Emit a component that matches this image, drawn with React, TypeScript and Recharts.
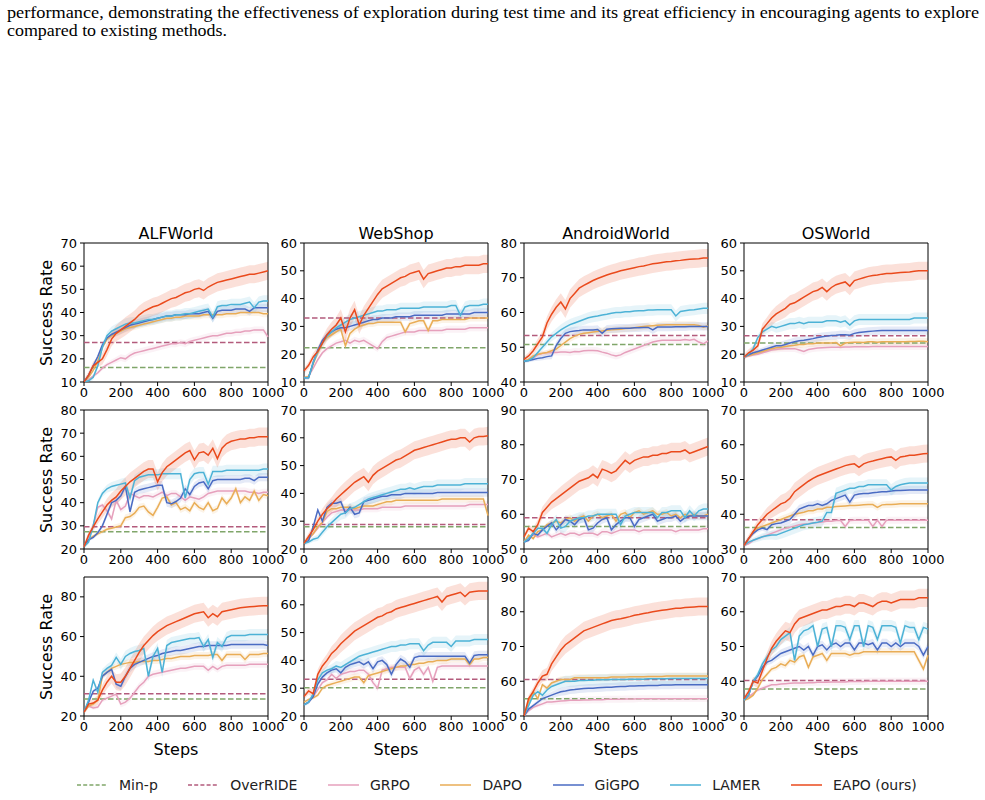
import React from "react";
import { ComposedChart, Line, Area, XAxis, YAxis, ReferenceLine, ReferenceArea } from "recharts";

// training steps shared by every curve
const STEPS = [
  0, 25, 50, 75, 100, 125, 150, 175, 200, 225, 250,
  275, 300, 325, 350, 375, 400, 425, 450, 475, 500,
  525, 550, 575, 600, 625, 650, 675, 700, 725, 750,
  775, 800, 825, 850, 875, 900, 925, 950, 975, 1000,
];

const ENVS = ["ALFWorld", "WebShop", "AndroidWorld", "OSWorld"];
const METHODS = ["GRPO", "DAPO", "GiGPO", "LAMER", "EAPO (ours)"];
const COLOURS = ["#e6a0bc", "#e9ad56", "#4a6bc3", "#4cb2d6", "#ea4a1c"];
const BAND_FRAC = [0.025, 0.025, 0.03, 0.04, 0.065];
const MINP_COLOUR = "#80a66a";
const OVERRIDE_COLOUR = "#b35b7c";

// baselines without curves (one value per panel, row by row)
const MINP_LEVELS = [16.3, 22.3, 50.8, 24, 27.5, 28, 56.5, 36.2, 28.5, 30.2, 55, 37.8];
const OVERRIDE_LEVELS = [27, 33, 53.4, 26.6, 29.6, 28.8, 59, 38.4, 31.2, 33.2, 60.5, 40.2];

const Y_DOMAINS = [
  [10, 70], [10, 60], [40, 80], [10, 60],
  [20, 80], [20, 70], [50, 90], [30, 70],
  [20, 90], [20, 70], [50, 90], [30, 70],
];
const Y_TICKS = [
  [10, 20, 30, 40, 50, 60, 70], [10, 20, 30, 40, 50, 60], [40, 50, 60, 70, 80], [10, 20, 30, 40, 50, 60],
  [20, 30, 40, 50, 60, 70, 80], [20, 30, 40, 50, 60, 70], [50, 60, 70, 80, 90], [30, 40, 50, 60, 70],
  [20, 40, 60, 80], [20, 30, 40, 50, 60, 70], [50, 60, 70, 80, 90], [30, 40, 50, 60, 70],
];
const X_TICKS = [0, 200, 400, 600, 800, 1000];

// ---- row 1 ----
const ALF1_GRPO = [
  10, 11, 12.5, 14, 16, 17.5, 18.5, 19.5, 20.5, 20, 21.5,
  22.5, 23, 23.5, 24, 24.5, 25, 25.5, 26, 26.5, 26.5,
  27, 26.5, 27.5, 28, 28.5, 29, 29.5, 30, 30, 30.5,
  31, 31, 31.5, 31.5, 32, 32, 32.5, 32.5, 32.5, 29.5,
];
const ALF1_DAPO = [
  10, 12, 15, 19, 25, 28.5, 30, 31, 32, 33, 33.5,
  34, 34.5, 35, 35.5, 36, 36.5, 37, 37.5, 37.5, 38,
  38, 38.5, 38.5, 38.5, 38.5, 39, 39, 39, 39, 39,
  39.5, 39.5, 39.5, 40, 40, 40, 40, 40, 39.5, 39.5,
];
const ALF1_GIGPO = [
  10, 13, 17, 21, 26, 29, 30.5, 31.5, 32.5, 33.5, 34.5,
  35, 35.5, 36, 36.5, 37, 37.5, 38, 38.5, 38.5, 39,
  39, 39, 39.5, 39.5, 39.5, 40, 40.5, 37.5, 40.5, 41,
  41, 41, 41.5, 41.5, 41.5, 40.5, 42, 42, 42, 42,
];
const ALF1_LAMER = [
  10, 10.5, 12, 17, 25, 30, 32, 33, 34, 35, 35.5,
  35.5, 36, 36.5, 37, 37, 37.5, 38, 38.5, 38.5, 39,
  39, 39.5, 39.5, 40, 40.5, 41, 41.5, 38, 42.5, 43,
  43, 43.5, 43.5, 43.5, 44, 44.5, 42, 44.5, 45, 45,
];
const ALF1_EAPO = [
  10, 13, 17, 18.5, 20, 24, 28.5, 31, 32.5, 34, 35.5,
  37, 39, 40.5, 41.5, 42.5, 43, 44, 45, 46, 46.5,
  47.5, 48.5, 49, 50, 50.5, 49.5, 51, 52, 53, 53.5,
  54, 54.5, 55, 55.5, 56, 56.5, 56.5, 57, 57.5, 58,
];

const WEB1_GRPO = [
  11.5, 12, 15, 18, 20.5, 22, 23, 24, 24.5, 25, 24,
  25, 24.5, 25, 24, 23, 22, 24.5, 26, 26.5, 27,
  27.5, 28, 28, 28, 28.5, 28.5, 28.5, 28.5, 28.5, 28.5,
  29, 29, 29, 29, 29, 29.5, 29.5, 29.5, 29.5, 29.5,
];
const WEB1_DAPO = [
  11.5, 12, 16.5, 20.5, 24, 26, 27, 28, 29, 23, 27.5,
  29, 30, 30.5, 31, 31, 31.5, 31.5, 31.5, 31.5, 31.5,
  31.5, 28, 31, 31.5, 32, 32, 28.5, 32, 32, 32.5,
  32.5, 32.5, 32.5, 32.5, 32.5, 33, 33, 33, 33, 33,
];
const WEB1_GIGPO = [
  11.5, 11.5, 17, 21.5, 25, 27, 28, 29, 29.5, 29.5, 30,
  30.5, 31, 31.5, 32, 32.5, 32.5, 33, 33, 33, 33.5,
  33.5, 33.5, 33.5, 34, 34, 34, 34, 34, 34, 34,
  34.5, 34.5, 34.5, 34.5, 34.5, 34.5, 35, 35, 35, 35,
];
const WEB1_LAMER = [
  11.5, 11.5, 17, 21, 24, 26.5, 28, 29.5, 30.5, 31.5, 32.5,
  33, 33.5, 34, 34.5, 35, 35.5, 35.5, 36, 36, 36,
  36.5, 36.5, 36.5, 36.5, 36.5, 37, 37, 37, 37, 37,
  37, 37.5, 37.5, 34, 37, 37.5, 37.5, 37.5, 38, 38,
];
const WEB1_EAPO = [
  14, 16, 19, 21, 24, 27, 29, 30.5, 33, 28, 33,
  36, 30.5, 34, 36.5, 39, 41.5, 43.5, 44.5, 45.5, 46.5,
  47.5, 48, 49, 49.5, 50, 47, 49, 49.5, 50, 50.5,
  51, 51, 51.5, 51.5, 52, 52, 52, 52, 52.5, 52.5,
];

const AND1_GRPO = [
  46, 46.3, 47, 47.8, 48.2, 48.4, 48.5, 48.5, 48.6, 48.6, 48.5,
  48.8, 48.7, 49, 49.1, 49.1, 49, 48.6, 48.3, 47.8, 47.5,
  47.8, 48.5, 49, 49.5, 50, 50.5, 51, 51.5, 51.8, 52,
  52, 52, 52, 52, 52.2, 52, 52.3, 51.5, 51, 51.8,
];
const AND1_DAPO = [
  46, 46.5, 47.5, 48, 48.3, 48.5, 49, 49.5, 50.5, 51.5, 52.5,
  53.2, 53.7, 54, 54.2, 54.4, 54.5, 54.7, 54.9, 55, 55.1,
  55.2, 55.4, 55.5, 55.6, 55.8, 56, 56.1, 56.2, 56.3, 56.4,
  56.5, 56.5, 56.5, 56.5, 56.5, 56.5, 56.5, 56.3, 55.8, 56.2,
];
const AND1_GIGPO = [
  46, 46.2, 46.5, 46.8, 47, 47.3, 47.5, 50.5, 52.5, 54, 54.5,
  54.7, 54.8, 55, 55, 55, 55.1, 54, 55.2, 55.3, 55.4,
  55.5, 55.5, 55.5, 55.6, 55.6, 55.7, 55.7, 55, 55.8, 55.8,
  55.8, 55.8, 55.9, 55.9, 55.9, 56, 56, 56, 56, 56,
];
const AND1_LAMER = [
  46, 46.2, 47, 48.5, 50, 51.5, 53, 54, 55, 55.8, 56.5,
  57, 57.5, 58, 58.5, 58.8, 59, 59.3, 59.5, 59.8, 60,
  60, 60.2, 60.2, 60.4, 60.5, 60.5, 60.7, 60.7, 60.8, 60.8,
  60.8, 60.8, 59, 60.3, 60.5, 60.7, 60.8, 61, 61.2, 61.2,
];
const AND1_EAPO = [
  46.5, 47.5, 49, 51, 53, 57, 59.5, 61.5, 63, 61, 64,
  65.5, 67, 67.8, 68.5, 69.2, 69.8, 70.3, 70.8, 71.2, 71.6,
  72, 72.3, 72.6, 72.9, 73.2, 73.4, 73.7, 74, 74.2, 74.4,
  74.6, 74.7, 74.9, 75, 75.2, 75.3, 75.4, 75.5, 75.7, 75.7,
];

const OS1_GRPO = [
  19, 19.3, 19.7, 20, 20.5, 21, 21.5, 21.7, 22, 22, 22,
  22, 21.5, 21, 21.7, 22, 22.2, 22.3, 22.4, 22.5, 22.5,
  22.5, 22.6, 22.6, 22.7, 22.7, 22.7, 22.7, 22.8, 22.8, 22.8,
  22.8, 22.8, 22.8, 22.8, 22.8, 22.8, 22.8, 22.8, 22.8, 22.8,
];
const OS1_DAPO = [
  19, 19.5, 20, 20.5, 21, 21.5, 22, 22.3, 22.5, 22.8, 23,
  23.2, 23.5, 23.5, 23.8, 23.8, 24, 24, 24, 24, 24.2,
  23, 24, 24.2, 24.3, 24.3, 24.2, 24.5, 24.5, 24.3, 24.5,
  24.5, 24.5, 24.5, 24.5, 24.5, 24.6, 24.6, 24.7, 24.7, 24.5,
];
const OS1_GIGPO = [
  19, 19.8, 20.5, 21, 21.5, 22, 22.5, 23, 23, 23.5, 24,
  24.5, 24.8, 25, 25.3, 25.6, 26, 26.3, 26.5, 26.7, 26.8,
  27, 27, 26.8, 27.5, 27.8, 28, 28.2, 28.3, 28.4, 28.5,
  28.5, 28.5, 28.5, 28.5, 28.5, 28.5, 28.5, 28.5, 28.5, 28.5,
];
const OS1_LAMER = [
  19, 20, 22, 26, 28, 29, 30, 29.5, 30, 30.5, 31,
  31, 31.5, 31, 31.5, 31.5, 31.5, 31.5, 32, 32, 32,
  31.5, 32, 30.5, 32, 32.5, 32.5, 32.5, 32.5, 32.5, 32.5,
  32.5, 32.5, 32.5, 32.5, 32.5, 32.5, 33, 33, 33, 33,
];
const OS1_EAPO = [
  19, 20.5, 21.5, 23, 29, 31, 33, 34.5, 35.5, 36.5, 38,
  38.5, 39.5, 40.5, 41.5, 42.5, 43, 44, 42.5, 44, 45,
  45.5, 46, 44.5, 46.5, 47, 47.5, 48, 48.3, 48.5, 48.8,
  49, 49, 49.2, 49.4, 49.5, 49.6, 49.8, 50, 50, 50,
];

// ---- row 2 ----
const ALF2_GRPO = [
  21, 25, 30, 38, 39, 36.5, 33, 41, 37, 38.5, 44,
  43, 42, 43, 43, 42.5, 43.5, 44.5, 43, 44, 44,
  42.5, 41, 42.5, 42, 41.5, 42.5, 44, 44.5, 45, 45,
  45, 45, 45, 45, 45, 44.5, 44.5, 44, 44.5, 44.5,
];
const ALF2_DAPO = [
  21, 24, 25.5, 26.5, 27.5, 28.5, 29, 29.5, 30, 33.5, 34,
  35.5, 38, 38.5, 36, 34.5, 38, 42, 42.5, 39, 40,
  37, 38, 36.5, 40, 38, 37, 40, 36.5, 37.5, 42,
  39.5, 42, 46, 40, 42.5, 41, 45, 41, 43.5, 43,
];
const ALF2_GIGPO = [
  21, 24, 25, 27, 30, 35, 40, 41, 43, 47, 36,
  44.5, 45.5, 46, 46.5, 47, 47.5, 47.5, 40, 39.5, 40.5,
  42, 46, 43.5, 47, 48.5, 49, 46, 49.5, 50, 50,
  50, 50, 50, 50, 50.5, 50.5, 49.5, 51, 51, 51,
];
const ALF2_LAMER = [
  21, 23, 30, 40, 44, 46, 47, 47.5, 48, 48.5, 42,
  49.5, 51, 51.5, 52, 52, 52, 52.5, 52.5, 52.5, 52.5,
  52.5, 42, 50, 52.5, 53, 53, 48, 53.5, 53.5, 53.5,
  54, 54, 54, 54, 54, 54, 54, 54, 54.5, 54.5,
];
const ALF2_EAPO = [
  21, 26, 29.5, 33, 36, 39, 41, 42.5, 45, 47, 49,
  50.5, 52, 53.5, 54.5, 54.5, 49, 53, 55.5, 57, 58.5,
  60, 61.5, 62.5, 58.5, 61.5, 62, 60.5, 63.5, 59, 63.5,
  65.5, 66.5, 67, 67.5, 67.5, 68, 68, 68.5, 68.5, 68.5,
];

const WEB2_GRPO = [
  22, 23.5, 25.5, 27.5, 29.5, 31.5, 33, 33.5, 34, 34, 34,
  34, 34, 34.5, 34.5, 34.5, 34.5, 35, 35, 35, 35,
  35, 35.5, 35.5, 35.5, 35.5, 35.5, 35.5, 35.5, 35.5, 35.5,
  35.5, 35.5, 35.5, 35.5, 35.5, 36, 36, 36, 36, 36,
];
const WEB2_DAPO = [
  22, 24, 25.5, 28, 29.5, 33.5, 34.5, 34.5, 35, 35, 35,
  34.5, 35, 35.5, 35.5, 35.5, 36, 36.5, 37, 37, 37.5,
  37.5, 37.5, 37.5, 37.5, 37.5, 37.5, 37.5, 37.5, 37.5, 38,
  38, 38, 38, 38, 38, 38, 38, 38, 38, 32,
];
const WEB2_GIGPO = [
  22, 23, 28, 34, 30, 35, 36.5, 36.5, 37, 33, 35,
  32.5, 33, 37, 37.5, 38, 38.5, 39, 39, 39.5, 39.5,
  39.5, 40, 40, 40, 40, 40, 40, 40, 40.3, 40.3,
  40.3, 40.3, 40.3, 40.3, 40.3, 40.3, 40.3, 40.3, 40.3, 40.3,
];
const WEB2_LAMER = [
  22, 22.5, 23.5, 24, 26, 28, 29.5, 31, 32.5, 33, 34.5,
  35, 36, 37, 38, 38.5, 39, 39.5, 40, 40.5, 41,
  41.5, 41.5, 42, 41.5, 42, 42.5, 42.5, 42.5, 43, 43,
  43, 43, 43, 43, 43.5, 43.5, 43.5, 43.5, 43.5, 43.5,
];
const WEB2_EAPO = [
  22, 24.5, 27, 30, 32.5, 34.5, 36, 38, 39.5, 41, 42.5,
  44, 45, 46, 44, 46.5, 48, 49, 50, 51, 52,
  52.5, 53.5, 54.5, 55.5, 56, 56.5, 57, 57.5, 58, 58.5,
  59, 59.5, 59.5, 60, 60, 58.5, 60, 60.5, 60.5, 60.7,
];

const AND2_GRPO = [
  52, 53.5, 54, 53.5, 54, 54.5, 53.5, 54, 54.5, 54, 54.5,
  54.5, 54, 54.5, 54.5, 54.5, 54, 55, 55, 54.5, 55,
  55.5, 55.5, 55.5, 55.5, 55, 55.5, 55.5, 55.5, 55.5, 55.5,
  55.5, 55.5, 55, 55.5, 55.5, 55.5, 55.5, 55.5, 55.8, 55.8,
];
const AND2_DAPO = [
  52, 54, 53, 55, 55.5, 57, 57.5, 58, 57.5, 58.5, 59,
  58, 59, 59.5, 58, 59.5, 60, 59, 59.5, 60, 58,
  60, 60.5, 59, 60.5, 61, 60, 60.5, 61, 60, 60,
  60.5, 59.5, 60, 59, 60, 59.5, 60, 59.5, 59.5, 60,
];
const AND2_GIGPO = [
  52, 52.5, 54.5, 54, 55.5, 56.5, 57.5, 55.5, 57, 58.5, 58,
  57, 58.5, 59, 55.5, 56, 57.5, 58.5, 59, 55.5, 57,
  58, 59, 59, 56.5, 58.5, 59, 59.5, 60, 58, 58.5,
  59, 59, 59.5, 58, 59, 59.5, 59.5, 59.5, 59.5, 59.5,
];
const AND2_LAMER = [
  52, 53, 54.5, 56, 56, 54.5, 57, 58.5, 56, 56.5, 58,
  58.5, 59, 59, 59.5, 59.5, 60, 60, 60, 60, 60,
  57, 59.5, 60, 60.5, 60.5, 60.5, 60.5, 60.5, 59, 60.5,
  60.5, 61, 61, 61, 59, 61, 59.5, 61, 61.5, 61.5,
];
const AND2_EAPO = [
  53.5, 56, 55, 57, 60.5, 62, 63.5, 64.5, 65.5, 66.5, 67.5,
  68.5, 69.5, 70, 70.5, 71.5, 70.5, 73, 72.5, 71.8, 72.5,
  74, 75.5, 74.5, 75.5, 76, 76.5, 76.5, 77, 77, 77.5,
  77.5, 78, 78, 78, 78.5, 77.5, 78, 78.5, 79, 79.5,
];

const OS2_GRPO = [
  31, 31.5, 32.5, 33, 33.5, 34, 34.5, 35, 35.5, 36, 36.3,
  36.6, 37, 37.2, 37.3, 37.5, 37.6, 37.8, 38, 38, 38.2,
  38.2, 36.5, 38.2, 38.3, 38.3, 38.3, 38.3, 36.5, 38.3, 36.5,
  38.3, 38.3, 38.3, 38.3, 38.3, 38.3, 38.3, 38.3, 38.3, 38.3,
];
const OS2_DAPO = [
  31, 33, 35, 36, 36.5, 37, 37.5, 38, 38.5, 39, 39.5,
  40, 40.3, 40.6, 41, 41, 41.5, 41.5, 42, 42, 42.2,
  42.3, 42.4, 42.5, 42.5, 42.6, 42.7, 42.8, 42.8, 42, 42.7,
  42.8, 42.8, 42.9, 43, 43, 43, 43, 43, 43, 43,
];
const OS2_GIGPO = [
  31, 33, 34.5, 35.5, 36, 35.6, 37, 37.3, 37.5, 38, 38.5,
  40, 41.5, 42, 42.5, 42.5, 43, 42.5, 43, 44, 44.5,
  45, 45.5, 43.5, 45.5, 45.8, 46, 46, 46.2, 46.3, 46.5,
  46.5, 46.7, 46.8, 46.8, 46.9, 47, 47, 47, 47, 47,
];
const OS2_LAMER = [
  31, 32, 32.5, 33, 33.5, 33.8, 34, 34, 34.5, 35, 35.5,
  36, 36.5, 37, 37.2, 37.5, 37.7, 38, 40.5, 40.5, 46,
  46.5, 47, 47.5, 47.5, 48, 48, 48.5, 48.5, 48.5, 48.5,
  48.5, 47, 48, 48.5, 48.8, 49, 49, 49, 49, 49,
];
const OS2_EAPO = [
  31, 33, 35, 37, 38.5, 40, 41, 42, 43, 43.5, 44.6,
  46.5, 47.5, 48.5, 49.5, 50.3, 51, 51.5, 52, 52.5, 53,
  53.5, 54, 54.3, 54.5, 53.5, 54.5, 55, 55.3, 55.7, 56,
  56.3, 56.5, 55.5, 56.5, 56.7, 57, 57, 57.2, 57.4, 57.5,
];

// ---- row 3 ----
const ALF3_GRPO = [
  22, 25, 24, 24.5, 28, 29, 30, 31, 26, 27, 29,
  32, 35, 37, 40, 41, 41.5, 42, 42.5, 43, 43.5,
  44, 44, 44.5, 45, 45, 45, 43, 45, 43.5, 45,
  45.5, 45.5, 45.5, 45.5, 45.5, 46, 46, 46, 46, 46,
];
const ALF3_DAPO = [
  22, 25, 26, 28, 40, 42, 44, 45, 46, 46.5, 47,
  47, 47.5, 47.5, 47.5, 48, 48, 48.5, 49, 49, 49.5,
  50, 50, 50, 50.5, 50.5, 50.5, 50.5, 51, 51, 48,
  51, 51, 51, 51, 48.5, 51, 51, 51, 51.5, 51.5,
];
const ALF3_GIGPO = [
  22, 27, 32.5, 34, 40, 42, 43.5, 36, 35, 40, 44,
  46, 47, 48, 49, 50, 50.5, 51.5, 52, 52.5, 53,
  53, 53.5, 54, 54.5, 55, 55, 55.5, 55.5, 55.5, 55.5,
  55.5, 56, 56, 56, 56, 56, 56, 56, 56, 55.5,
];
const ALF3_LAMER = [
  22, 28, 38, 32, 42, 44, 45.5, 49.5, 46, 50, 51.5,
  52.5, 53, 54, 40, 50, 54, 42, 55.5, 57, 57.5,
  58, 58.5, 59, 59, 59.5, 55, 58.5, 49.5, 57, 55,
  59.5, 60.5, 60.5, 60.5, 60.5, 61, 61, 61, 61, 61,
];
const ALF3_EAPO = [
  22, 26, 26.5, 28, 33, 37, 40, 37, 37, 40, 44,
  48, 52, 55.5, 58, 60.5, 62.5, 64, 65.5, 66.5, 67.5,
  68.5, 69.5, 70.5, 71.5, 72, 72.5, 69.5, 71.5, 70, 72.5,
  73, 73.5, 74, 74.5, 74.8, 75, 75.2, 75.4, 75.5, 75.5,
];

const WEB3_GRPO = [
  24, 25, 27, 29.5, 32, 33, 35, 33.5, 35, 35.5, 36,
  36, 36.5, 36.5, 35, 32, 30, 36.5, 37, 37.5, 37.5,
  37.5, 37.5, 33.5, 36.5, 37.5, 35, 37.5, 32.5, 37.5, 38,
  38, 38, 38, 38, 38, 38, 38, 38, 38, 38,
];
const WEB3_DAPO = [
  25, 26, 26.5, 27.5, 30, 31, 31.5, 32, 32.5, 33, 33.5,
  34, 34, 32, 34.5, 35, 35.5, 36, 36.5, 37, 37.5,
  38, 38, 38.5, 38.5, 39, 39, 39.5, 39.5, 40, 40,
  40, 40.5, 40.5, 40.5, 40.5, 38.5, 40.5, 40.5, 41, 41,
];
const WEB3_GIGPO = [
  24, 25, 27, 31.5, 34, 35.5, 36.5, 37, 35.5, 37.5, 38.5,
  39, 39.5, 38.5, 39.5, 37, 39.5, 40, 38.5, 35, 38.5,
  40.5, 39.5, 37.5, 41, 41.5, 41.5, 41.5, 41.5, 41.5, 41.5,
  41.5, 41.5, 41.5, 41.5, 41.5, 39, 41.8, 42, 42, 42,
];
const WEB3_LAMER = [
  24, 25, 28, 33, 35.5, 36.5, 37, 38, 37.5, 38.5, 39.5,
  40.5, 41.5, 42, 42.5, 43, 43.5, 44, 44.5, 45, 45,
  45.5, 45.5, 46, 46, 46, 43.5, 45.5, 46.5, 46.5, 46.5,
  46.5, 45, 47, 47, 47, 47, 47.5, 47.5, 47.5, 47.5,
];
const WEB3_EAPO = [
  27, 29, 28, 35, 38, 40, 42.5, 44, 46, 47.5, 49,
  50.5, 51.5, 52.5, 53.5, 54.5, 55.5, 56, 57, 57.5, 58.5,
  59, 59.5, 60, 60.5, 61, 61.5, 62, 62.5, 63, 61,
  63, 63.5, 64, 64.5, 63, 64.5, 64.8, 65, 65, 65,
];

const AND3_GRPO = [
  50, 51.5, 52.5, 53, 53.5, 54, 54, 54.2, 54.3, 54.4, 54.5,
  54.5, 54.5, 54.6, 54.6, 54.7, 54.7, 54.7, 54.8, 54.8, 54.8,
  54.8, 54.9, 54.9, 54.9, 55, 55, 55, 55, 55, 55,
  55, 55, 55, 55, 55, 55, 55, 55, 55, 55,
];
const AND3_DAPO = [
  50, 54, 57, 55, 59, 58, 59.5, 60, 60.5, 60.5, 60.5,
  61, 61, 61, 61, 61, 61, 61, 61, 61.2, 61.2,
  61.2, 61.2, 61.3, 61.3, 61.3, 61.3, 61.4, 61.4, 61.4, 61.4,
  61.5, 61.5, 61.5, 61.5, 61.5, 61.5, 61.5, 61.5, 61.5, 61.5,
];
const AND3_GIGPO = [
  50, 52, 53, 54, 55, 55.5, 56, 56.5, 57, 57.2, 57.5,
  57.6, 57.8, 57.9, 58, 58, 58.1, 58.2, 58.3, 58.3, 58.4,
  58.5, 58.5, 58.6, 58.6, 58.7, 58.7, 58.8, 58.8, 58.8, 58.9,
  58.9, 58.9, 59, 59, 59, 59, 59, 59, 59, 59,
];
const AND3_LAMER = [
  50, 53, 56, 57, 56, 57.5, 58.5, 59, 59.5, 60, 60,
  60, 60.2, 60.2, 60.3, 60.3, 60.4, 60.4, 60.4, 60.5, 60.5,
  60.5, 60.5, 60.6, 60.6, 60.6, 60.6, 60.7, 60.7, 60.7, 60.7,
  60.7, 60.8, 60.8, 60.8, 60.8, 60.8, 60.8, 60.8, 60.8, 60.8,
];
const AND3_EAPO = [
  50, 55, 57, 59.5, 61.5, 62, 65, 67, 69, 70.5, 71.5,
  72.5, 73.5, 74.5, 75, 75.5, 76, 76.5, 77, 77.5, 77.8,
  78, 78.3, 78.6, 79, 79.2, 79.5, 79.7, 80, 80.2, 80.4,
  80.6, 80.8, 81, 81, 81.2, 81.3, 81.4, 81.5, 81.5, 81.5,
];

const OS3_GRPO = [
  34.5, 35.5, 36.5, 37.5, 38, 38.5, 39, 39, 39.2, 39.3, 39.4,
  39.5, 39.5, 39.5, 39.6, 39.6, 39.7, 39.7, 39.7, 39.8, 39.8,
  39.8, 39.8, 39.9, 39.9, 39.9, 39.9, 40, 40, 40, 40,
  40, 40, 40, 40, 40, 40, 40, 40, 40, 40,
];
const OS3_DAPO = [
  34.5, 35, 36, 38, 40.5, 42, 43.5, 44, 45, 44.5, 46,
  45.5, 47, 47.5, 44, 47, 47.5, 48, 46, 48, 48,
  48, 48, 47.5, 48, 48, 48.5, 48.5, 48.5, 48.5, 48.5,
  48.5, 48.5, 48.5, 48.5, 48.5, 48.5, 48.5, 46, 43.5, 47.5,
];
const OS3_GIGPO = [
  34.5, 36, 40, 41.5, 44, 45.5, 46, 47, 48, 48.5, 49,
  49.5, 50, 49, 50, 47.5, 50, 50.5, 49, 50.5, 51,
  50, 51, 51, 49, 51, 51, 50.5, 51, 49, 51,
  51, 50, 51, 50, 51, 51, 51, 50, 47.5, 50,
];
const OS3_LAMER = [
  34.5, 36, 40, 42, 45, 47, 49, 50, 52, 53, 54,
  46, 53, 54.5, 55, 56, 50, 55, 55.5, 50, 56,
  56, 55.5, 52, 56, 56, 50, 56, 55.5, 52, 56,
  56, 56, 55.5, 51, 56, 55.5, 55.5, 52, 55.5, 55,
];
const OS3_EAPO = [
  35, 37, 40, 39.5, 43, 46.5, 49.5, 51.5, 53, 54.5, 54,
  56.5, 58, 58.5, 59, 59.5, 60, 60.5, 60.5, 61, 61.5,
  61.5, 62, 62, 61.5, 62.5, 62.5, 62, 61.5, 62.5, 63,
  63, 62.5, 63, 63.5, 63.5, 63.5, 63.5, 64, 64, 64,
];

// curves per panel in METHODS order
const PANEL_SERIES = [
  [ALF1_GRPO, ALF1_DAPO, ALF1_GIGPO, ALF1_LAMER, ALF1_EAPO],
  [WEB1_GRPO, WEB1_DAPO, WEB1_GIGPO, WEB1_LAMER, WEB1_EAPO],
  [AND1_GRPO, AND1_DAPO, AND1_GIGPO, AND1_LAMER, AND1_EAPO],
  [OS1_GRPO, OS1_DAPO, OS1_GIGPO, OS1_LAMER, OS1_EAPO],
  [ALF2_GRPO, ALF2_DAPO, ALF2_GIGPO, ALF2_LAMER, ALF2_EAPO],
  [WEB2_GRPO, WEB2_DAPO, WEB2_GIGPO, WEB2_LAMER, WEB2_EAPO],
  [AND2_GRPO, AND2_DAPO, AND2_GIGPO, AND2_LAMER, AND2_EAPO],
  [OS2_GRPO, OS2_DAPO, OS2_GIGPO, OS2_LAMER, OS2_EAPO],
  [ALF3_GRPO, ALF3_DAPO, ALF3_GIGPO, ALF3_LAMER, ALF3_EAPO],
  [WEB3_GRPO, WEB3_DAPO, WEB3_GIGPO, WEB3_LAMER, WEB3_EAPO],
  [AND3_GRPO, AND3_DAPO, AND3_GIGPO, AND3_LAMER, AND3_EAPO],
  [OS3_GRPO, OS3_DAPO, OS3_GIGPO, OS3_LAMER, OS3_EAPO],
];

// layout
const PLOT_LEFT = [84, 304, 524, 744];
const PLOT_TOP = [243, 410, 577];
const PLOT_W = 184;
const PLOT_H = 139;
const Y_AXIS_W = 40;
const X_AXIS_H = 25;
const M_TOP = 10;
const M_RIGHT = 22;

const FONT = "'DejaVu Sans', sans-serif";
const tickStyle = { fill: "#000", fontSize: 13, fontFamily: FONT };

function Panel({ idx }: { idx: number }) {
  const row = Math.floor(idx / 4);
  const col = idx % 4;
  const [yMin, yMax] = Y_DOMAINS[idx];
  const span = yMax - yMin;
  const series = PANEL_SERIES[idx];

  const data = STEPS.map((step, k) => {
    const d: Record<string, any> = { step };
    const ramp = Math.min(1, 0.3 + step / 300);
    series.forEach((vals, m) => {
      const w = BAND_FRAC[m] * span * ramp;
      d["m" + m] = vals[k];
      d["b" + m] = [vals[k] - w, vals[k] + w];
    });
    return d;
  });

  return (
    <div style={{ position: "absolute", left: PLOT_LEFT[col] - Y_AXIS_W, top: PLOT_TOP[row] - M_TOP }}>
      <ComposedChart
        width={Y_AXIS_W + PLOT_W + M_RIGHT}
        height={M_TOP + PLOT_H + X_AXIS_H}
        data={data}
        margin={{ top: M_TOP, right: M_RIGHT, bottom: 0, left: 0 }}
      >
        <XAxis
          dataKey="step"
          type="number"
          domain={[0, 1000]}
          ticks={X_TICKS}
          interval={0}
          height={X_AXIS_H}
          tick={tickStyle}
          tickSize={4}
          tickMargin={2}
          axisLine={false}
          tickLine={{ stroke: "#000" }}
        />
        <YAxis
          type="number"
          domain={[yMin, yMax]}
          ticks={Y_TICKS[idx]}
          interval={0}
          allowDataOverflow
          width={Y_AXIS_W}
          tick={tickStyle}
          tickSize={4}
          tickMargin={3}
          axisLine={false}
          tickLine={{ stroke: "#000" }}
        />
        {series.map((_, m) => (
          <Area
            key={"b" + m}
            dataKey={"b" + m}
            type="linear"
            stroke="none"
            fill={COLOURS[m]}
            fillOpacity={m === 4 ? 0.17 : 0.14}
            isAnimationActive={false}
            dot={false}
            activeDot={false}
          />
        ))}
        <ReferenceLine y={MINP_LEVELS[idx]} stroke={MINP_COLOUR} strokeWidth={1.5} strokeDasharray="5.5 2.5" />
        <ReferenceLine y={OVERRIDE_LEVELS[idx]} stroke={OVERRIDE_COLOUR} strokeWidth={1.5} strokeDasharray="5.5 2.5" />
        {series.map((_, m) => (
          <Line
            key={"m" + m}
            dataKey={"m" + m}
            type="linear"
            stroke={COLOURS[m]}
            strokeWidth={1.5}
            dot={false}
            activeDot={false}
            isAnimationActive={false}
          />
        ))}
        <ReferenceArea x1={0} x2={1000} y1={yMin} y2={yMax} fill="none" stroke="#000" strokeWidth={1} />
      </ComposedChart>
    </div>
  );
}

function LegendRow() {
  const entries = [
    { name: "Min-p", colour: MINP_COLOUR, dashed: true },
    { name: "OverRIDE", colour: OVERRIDE_COLOUR, dashed: true },
    ...METHODS.map((name, m) => ({ name, colour: COLOURS[m], dashed: false })),
  ];
  return (
    <div
      style={{
        position: "absolute",
        left: 77,
        top: 777,
        display: "flex",
        alignItems: "center",
        gap: 30.5,
        fontFamily: FONT,
        fontSize: 14,
        color: "#222",
      }}
    >
      {entries.map((e) => (
        <div key={e.name} style={{ display: "flex", alignItems: "center" }}>
          <svg width={31} height={10} style={{ marginRight: 11 }}>
            <line
              x1={0}
              y1={5}
              x2={31}
              y2={5}
              stroke={e.colour}
              strokeWidth={1.5}
              strokeDasharray={e.dashed ? "4 2.2" : undefined}
            />
          </svg>
          <span>{e.name}</span>
        </div>
      ))}
    </div>
  );
}

export default function App() {
  const panels = Array.from({ length: 12 }, (_, i) => i);
  return (
    <div style={{ position: "absolute", left: 0, top: 0, width: 985, height: 800, background: "#fff", overflow: "hidden" }}>
      <svg width={985} height={45} style={{ position: "absolute", left: 0, top: 0 }}>
        <text x={7} y={18} fontFamily="'Liberation Serif', serif" fontSize={17} textLength={972} lengthAdjust="spacingAndGlyphs" fill="#000">
          performance, demonstrating the effectiveness of exploration during test time and its great efficiency in encouraging agents to explore
        </text>
        <text x={7} y={36} fontFamily="'Liberation Serif', serif" fontSize={17} textLength={220} lengthAdjust="spacingAndGlyphs" fill="#000">
          compared to existing methods.
        </text>
      </svg>

      {ENVS.map((env, c) => (
        <div
          key={env}
          style={{
            position: "absolute",
            left: PLOT_LEFT[c] + PLOT_W / 2,
            top: 233,
            transform: "translate(-50%, -50%)",
            fontFamily: FONT,
            fontSize: 16,
            whiteSpace: "nowrap",
          }}
        >
          {env}
        </div>
      ))}

      {PLOT_TOP.map((t) => (
        <div
          key={t}
          style={{
            position: "absolute",
            left: 46,
            top: t + PLOT_H / 2,
            transform: "translate(-50%, -50%) rotate(-90deg)",
            fontFamily: FONT,
            fontSize: 16,
            whiteSpace: "nowrap",
          }}
        >
          Success Rate
        </div>
      ))}

      {PLOT_LEFT.map((l) => (
        <div
          key={l}
          style={{
            position: "absolute",
            left: l + PLOT_W / 2,
            top: 749,
            transform: "translate(-50%, -50%)",
            fontFamily: FONT,
            fontSize: 16,
            whiteSpace: "nowrap",
          }}
        >
          Steps
        </div>
      ))}

      {panels.map((i) => (
        <Panel key={i} idx={i} />
      ))}

      <LegendRow />
    </div>
  );
}
